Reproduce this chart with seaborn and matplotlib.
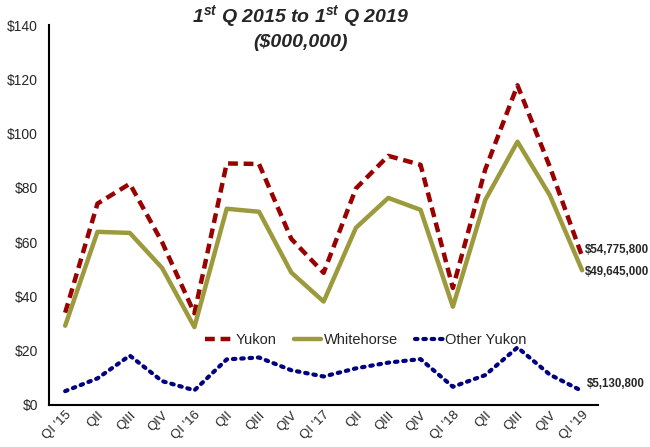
import numpy as np
import pandas as pd
import matplotlib
matplotlib.use("Agg")
import matplotlib.pyplot as plt
import seaborn as sns

quarters = ["QI '15", "QII", "QIII", "QIV", "QI '16", "QII", "QIII", "QIV",
            "QI '17", "QII", "QIII", "QIV", "QI '18", "QII", "QIII", "QIV", "QI '19"]

yukon = [34.0, 74.2, 81.5, 60.0, 33.8, 89.0, 88.8, 61.2, 48.7,
         79.8, 91.8, 88.5, 43.1, 86.7, 117.8, 87.8, 54.7758]
whitehorse = [29.2, 63.8, 63.4, 50.5, 28.7, 72.3, 71.2, 48.8, 38.1,
              65.3, 76.3, 71.9, 36.2, 75.5, 97.0, 77.3, 49.645]
other_yukon = [5.1, 9.8, 18.2, 8.8, 5.4, 16.8, 17.5, 12.8, 10.5,
               13.5, 15.6, 16.9, 6.7, 11.0, 21.2, 11.2, 5.1308]

end_labels = ["$54,775,800", "$49,645,000", "$5,130,800"]

sns.set_theme(style="white")
plt.rcParams['font.family'] = ['Liberation Sans', 'DejaVu Sans']
plt.rcParams['mathtext.fontset'] = 'custom'
plt.rcParams['mathtext.rm'] = 'Liberation Sans:bold:italic'
plt.rcParams['mathtext.it'] = 'Liberation Sans:bold:italic'

fig = plt.figure(figsize=(6.5, 4.47), dpi=100)
ax = fig.add_axes([0.0754, 0.094, 0.845, 0.85])

pos = np.arange(len(quarters))
sns.lineplot(x=pos, y=yukon, ax=ax, color="#990000", lw=3.2,
             linestyle=(0, (2.2, 1.3)), label="Yukon")
sns.lineplot(x=pos, y=whitehorse, ax=ax, color="#9c9a3c", lw=3.2,
             label="Whitehorse")
sns.lineplot(x=pos, y=other_yukon, ax=ax, color="#000080", lw=3,
             linestyle=(0, (0.6, 1.4)), dash_capstyle="round", label="Other Yukon")

ax.set_xlim(-0.5, len(quarters) - 0.5)
ax.set_ylim(0, 140)
ax.set_xticks(pos)
ax.set_xticklabels(quarters, rotation=45, ha="right", rotation_mode="anchor", fontsize=9.5)
ax.set_yticks(range(0, 141, 20))
ax.set_yticklabels([f"${v}" for v in range(0, 141, 20)], fontsize=10)
ax.tick_params(axis="x", length=0, pad=3)
ax.tick_params(axis="y", length=0, pad=8)

for side in ["top", "right"]:
    ax.spines[side].set_visible(False)
for side in ["left", "bottom"]:
    ax.spines[side].set_color("black")
    ax.spines[side].set_linewidth(1.5)

# labels at the last quarter
last = len(quarters) - 1
lab_kw = dict(fontsize=8.3, fontweight="bold", va="center")
ax.text(last + 0.1, yukon[-1] + 2.5, end_labels[0], **lab_kw)
ax.text(last + 0.1, whitehorse[-1] - 0.5, end_labels[1], **lab_kw)
ax.text(last + 0.15, other_yukon[-1] + 2.5, end_labels[2], **lab_kw)

ax.legend(loc="center", bbox_to_anchor=(0.577, 0.171), ncol=3, frameon=False,
          fontsize=10.5, handlelength=1.9, columnspacing=1.2, handletextpad=0.15)

title_kw = dict(ha="center", va="center", fontsize=14, fontweight="bold", fontstyle="italic")
fig.text(0.463, 0.964, r"1$^{st}$ Q 2015 to 1$^{st}$ Q 2019", **title_kw)
fig.text(0.463, 0.905, "($000,000)", **title_kw)

fig.savefig("out.png", dpi=100)
